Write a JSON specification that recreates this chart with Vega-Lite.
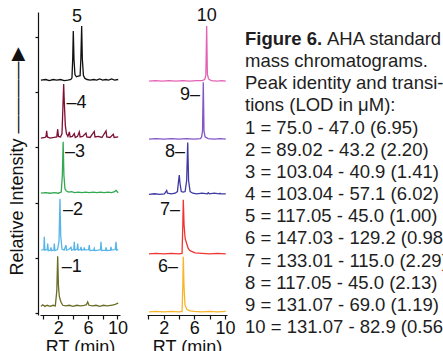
{
"$schema": "https://vega.github.io/schema/vega-lite/v6.json",
"width": 405, "height": 303,
"autosize": {"type": "none"},
"padding": {"left": 38, "top": 12, "right": 0, "bottom": 36},
"background": "white",
"config": {
  "view": {"stroke": null},
  "font": "Liberation Sans",
  "axis": {"grid": false, "domainColor": "#111", "tickColor": "#111", "domainWidth": 1.2, "tickWidth": 1.2, "labelColor": "#111", "titleColor": "#111", "labelFont": "Liberation Sans", "titleFont": "Liberation Sans", "labelFontSize": 18, "titleFontSize": 18, "titleFontWeight": "normal"}
},
"datasets": {
  "tr": [
    {"p":"L","t":"5","rt":-0.35,"v":4.22},{"p":"L","t":"5","rt":0.3,"v":4.23},{"p":"L","t":"5","rt":0.8,"v":4.21},{"p":"L","t":"5","rt":1.3,"v":4.23},{"p":"L","t":"5","rt":1.8,"v":4.22},{"p":"L","t":"5","rt":2.3,"v":4.23},{"p":"L","t":"5","rt":2.8,"v":4.21},{"p":"L","t":"5","rt":3.3,"v":4.22},{"p":"L","t":"5","rt":3.7,"v":4.23},{"p":"L","t":"5","rt":3.85,"v":4.26},{"p":"L","t":"5","rt":3.95,"v":4.6},{"p":"L","t":"5","rt":4.03,"v":5.11},{"p":"L","t":"5","rt":4.12,"v":4.6},{"p":"L","t":"5","rt":4.25,"v":4.32},{"p":"L","t":"5","rt":4.45,"v":4.28},{"p":"L","t":"5","rt":4.7,"v":4.29},{"p":"L","t":"5","rt":4.95,"v":4.3},{"p":"L","t":"5","rt":5.05,"v":4.6},{"p":"L","t":"5","rt":5.16,"v":5.2},{"p":"L","t":"5","rt":5.25,"v":4.6},{"p":"L","t":"5","rt":5.4,"v":4.3},{"p":"L","t":"5","rt":5.6,"v":4.25},{"p":"L","t":"5","rt":5.9,"v":4.23},{"p":"L","t":"5","rt":6.3,"v":4.22},{"p":"L","t":"5","rt":6.8,"v":4.23},{"p":"L","t":"5","rt":7.2,"v":4.22},{"p":"L","t":"5","rt":7.6,"v":4.24},{"p":"L","t":"5","rt":8.0,"v":4.22},{"p":"L","t":"5","rt":8.4,"v":4.23},{"p":"L","t":"5","rt":8.8,"v":4.22},{"p":"L","t":"5","rt":9.2,"v":4.24},{"p":"L","t":"5","rt":9.6,"v":4.22},{"p":"L","t":"5","rt":10.1,"v":4.23},

    {"p":"L","t":"4","rt":-0.35,"v":3.17},{"p":"L","t":"4","rt":0.2,"v":3.18},{"p":"L","t":"4","rt":0.35,"v":3.2},{"p":"L","t":"4","rt":0.43,"v":3.3},{"p":"L","t":"4","rt":0.52,"v":3.19},{"p":"L","t":"4","rt":0.9,"v":3.17},{"p":"L","t":"4","rt":1.4,"v":3.18},{"p":"L","t":"4","rt":1.8,"v":3.19},{"p":"L","t":"4","rt":1.92,"v":3.33},{"p":"L","t":"4","rt":2.02,"v":3.2},{"p":"L","t":"4","rt":2.3,"v":3.19},{"p":"L","t":"4","rt":2.5,"v":3.25},{"p":"L","t":"4","rt":2.62,"v":3.7},{"p":"L","t":"4","rt":2.73,"v":4.15},{"p":"L","t":"4","rt":2.82,"v":3.8},{"p":"L","t":"4","rt":2.95,"v":3.4},{"p":"L","t":"4","rt":3.1,"v":3.25},{"p":"L","t":"4","rt":3.3,"v":3.2},{"p":"L","t":"4","rt":3.5,"v":3.28},{"p":"L","t":"4","rt":3.6,"v":3.19},{"p":"L","t":"4","rt":3.9,"v":3.2},{"p":"L","t":"4","rt":4.16,"v":3.25},{"p":"L","t":"4","rt":4.3,"v":3.18},{"p":"L","t":"4","rt":4.6,"v":3.2},{"p":"L","t":"4","rt":4.84,"v":3.28},{"p":"L","t":"4","rt":4.95,"v":3.19},{"p":"L","t":"4","rt":5.3,"v":3.2},{"p":"L","t":"4","rt":5.74,"v":3.26},{"p":"L","t":"4","rt":5.85,"v":3.19},{"p":"L","t":"4","rt":6.3,"v":3.18},{"p":"L","t":"4","rt":6.86,"v":3.29},{"p":"L","t":"4","rt":6.96,"v":3.19},{"p":"L","t":"4","rt":7.4,"v":3.2},{"p":"L","t":"4","rt":7.9,"v":3.18},{"p":"L","t":"4","rt":8.45,"v":3.3},{"p":"L","t":"4","rt":8.55,"v":3.19},{"p":"L","t":"4","rt":9.0,"v":3.18},{"p":"L","t":"4","rt":9.43,"v":3.24},{"p":"L","t":"4","rt":9.55,"v":3.18},{"p":"L","t":"4","rt":10.1,"v":3.19},

    {"p":"L","t":"3","rt":-0.35,"v":2.17},{"p":"L","t":"3","rt":0.3,"v":2.18},{"p":"L","t":"3","rt":0.9,"v":2.17},{"p":"L","t":"3","rt":1.5,"v":2.18},{"p":"L","t":"3","rt":2.0,"v":2.17},{"p":"L","t":"3","rt":2.4,"v":2.19},{"p":"L","t":"3","rt":2.55,"v":2.5},{"p":"L","t":"3","rt":2.66,"v":3.1},{"p":"L","t":"3","rt":2.76,"v":2.5},{"p":"L","t":"3","rt":2.9,"v":2.25},{"p":"L","t":"3","rt":3.1,"v":2.21},{"p":"L","t":"3","rt":3.4,"v":2.19},{"p":"L","t":"3","rt":3.8,"v":2.2},{"p":"L","t":"3","rt":4.2,"v":2.18},{"p":"L","t":"3","rt":4.7,"v":2.19},{"p":"L","t":"3","rt":5.2,"v":2.18},{"p":"L","t":"3","rt":5.7,"v":2.19},{"p":"L","t":"3","rt":6.2,"v":2.18},{"p":"L","t":"3","rt":6.7,"v":2.19},{"p":"L","t":"3","rt":7.2,"v":2.18},{"p":"L","t":"3","rt":7.7,"v":2.19},{"p":"L","t":"3","rt":8.2,"v":2.18},{"p":"L","t":"3","rt":8.7,"v":2.19},{"p":"L","t":"3","rt":9.2,"v":2.18},{"p":"L","t":"3","rt":9.6,"v":2.2},{"p":"L","t":"3","rt":9.8,"v":2.22},{"p":"L","t":"3","rt":10.1,"v":2.18},

    {"p":"L","t":"2","rt":-0.3,"v":1.14},{"p":"L","t":"2","rt":0.05,"v":1.15},{"p":"L","t":"2","rt":0.11,"v":1.38},{"p":"L","t":"2","rt":0.18,"v":1.14},{"p":"L","t":"2","rt":0.5,"v":1.15},{"p":"L","t":"2","rt":0.57,"v":1.26},{"p":"L","t":"2","rt":0.65,"v":1.13},{"p":"L","t":"2","rt":0.95,"v":1.14},{"p":"L","t":"2","rt":1.01,"v":1.19},{"p":"L","t":"2","rt":1.1,"v":1.13},{"p":"L","t":"2","rt":1.4,"v":1.14},{"p":"L","t":"2","rt":1.46,"v":1.26},{"p":"L","t":"2","rt":1.55,"v":1.13},{"p":"L","t":"2","rt":1.9,"v":1.15},{"p":"L","t":"2","rt":2.1,"v":1.3},{"p":"L","t":"2","rt":2.23,"v":2.07},{"p":"L","t":"2","rt":2.33,"v":1.4},{"p":"L","t":"2","rt":2.5,"v":1.16},{"p":"L","t":"2","rt":2.8,"v":1.14},{"p":"L","t":"2","rt":3.04,"v":1.23},{"p":"L","t":"2","rt":3.12,"v":1.14},{"p":"L","t":"2","rt":3.4,"v":1.15},{"p":"L","t":"2","rt":3.72,"v":1.19},{"p":"L","t":"2","rt":3.8,"v":1.14},{"p":"L","t":"2","rt":4.1,"v":1.15},{"p":"L","t":"2","rt":4.16,"v":1.29},{"p":"L","t":"2","rt":4.24,"v":1.14},{"p":"L","t":"2","rt":4.55,"v":1.16},{"p":"L","t":"2","rt":4.62,"v":1.26},{"p":"L","t":"2","rt":4.7,"v":1.14},{"p":"L","t":"2","rt":5.0,"v":1.15},{"p":"L","t":"2","rt":5.07,"v":1.2},{"p":"L","t":"2","rt":5.15,"v":1.14},{"p":"L","t":"2","rt":5.45,"v":1.15},{"p":"L","t":"2","rt":5.51,"v":1.19},{"p":"L","t":"2","rt":5.6,"v":1.14},{"p":"L","t":"2","rt":6.1,"v":1.15},{"p":"L","t":"2","rt":6.19,"v":1.23},{"p":"L","t":"2","rt":6.27,"v":1.13},{"p":"L","t":"2","rt":6.8,"v":1.14},{"p":"L","t":"2","rt":6.86,"v":1.17},{"p":"L","t":"2","rt":6.95,"v":1.13},{"p":"L","t":"2","rt":7.4,"v":1.14},{"p":"L","t":"2","rt":7.7,"v":1.15},{"p":"L","t":"2","rt":7.77,"v":1.29},{"p":"L","t":"2","rt":7.85,"v":1.13},{"p":"L","t":"2","rt":8.4,"v":1.14},{"p":"L","t":"2","rt":8.45,"v":1.19},{"p":"L","t":"2","rt":8.55,"v":1.13},{"p":"L","t":"2","rt":9.05,"v":1.14},{"p":"L","t":"2","rt":9.12,"v":1.2},{"p":"L","t":"2","rt":9.2,"v":1.14},{"p":"L","t":"2","rt":9.7,"v":1.15},{"p":"L","t":"2","rt":9.8,"v":1.29},{"p":"L","t":"2","rt":9.88,"v":1.14},{"p":"L","t":"2","rt":10.1,"v":1.15},

    {"p":"L","t":"1","rt":-0.35,"v":0.12},{"p":"L","t":"1","rt":-0.1,"v":0.15},{"p":"L","t":"1","rt":0.2,"v":0.12},{"p":"L","t":"1","rt":0.5,"v":0.14},{"p":"L","t":"1","rt":0.9,"v":0.12},{"p":"L","t":"1","rt":1.3,"v":0.14},{"p":"L","t":"1","rt":1.6,"v":0.13},{"p":"L","t":"1","rt":1.8,"v":0.4},{"p":"L","t":"1","rt":1.92,"v":1.03},{"p":"L","t":"1","rt":2.02,"v":0.5},{"p":"L","t":"1","rt":2.14,"v":0.3},{"p":"L","t":"1","rt":2.36,"v":0.2},{"p":"L","t":"1","rt":2.6,"v":0.14},{"p":"L","t":"1","rt":3.0,"v":0.13},{"p":"L","t":"1","rt":3.5,"v":0.14},{"p":"L","t":"1","rt":4.0,"v":0.12},{"p":"L","t":"1","rt":4.5,"v":0.14},{"p":"L","t":"1","rt":5.0,"v":0.13},{"p":"L","t":"1","rt":5.5,"v":0.14},{"p":"L","t":"1","rt":5.8,"v":0.15},{"p":"L","t":"1","rt":5.97,"v":0.2},{"p":"L","t":"1","rt":6.15,"v":0.14},{"p":"L","t":"1","rt":6.6,"v":0.13},{"p":"L","t":"1","rt":7.1,"v":0.14},{"p":"L","t":"1","rt":7.6,"v":0.12},{"p":"L","t":"1","rt":8.1,"v":0.14},{"p":"L","t":"1","rt":8.6,"v":0.13},{"p":"L","t":"1","rt":9.1,"v":0.14},{"p":"L","t":"1","rt":9.6,"v":0.15},{"p":"L","t":"1","rt":9.9,"v":0.17},{"p":"L","t":"1","rt":10.1,"v":0.18},

    {"p":"R","t":"10","rt":0.1,"v":4.2},{"p":"R","t":"10","rt":0.9,"v":4.21},{"p":"R","t":"10","rt":1.8,"v":4.2},{"p":"R","t":"10","rt":2.7,"v":4.21},{"p":"R","t":"10","rt":3.6,"v":4.2},{"p":"R","t":"10","rt":4.5,"v":4.21},{"p":"R","t":"10","rt":5.4,"v":4.2},{"p":"R","t":"10","rt":6.3,"v":4.21},{"p":"R","t":"10","rt":7.0,"v":4.21},{"p":"R","t":"10","rt":7.35,"v":4.23},{"p":"R","t":"10","rt":7.5,"v":4.3},{"p":"R","t":"10","rt":7.61,"v":5.2},{"p":"R","t":"10","rt":7.7,"v":4.33},{"p":"R","t":"10","rt":7.85,"v":4.24},{"p":"R","t":"10","rt":8.2,"v":4.21},{"p":"R","t":"10","rt":9.0,"v":4.2},{"p":"R","t":"10","rt":9.6,"v":4.21},{"p":"R","t":"10","rt":10.1,"v":4.2},

    {"p":"R","t":"9","rt":0.1,"v":3.15},{"p":"R","t":"9","rt":1.0,"v":3.16},{"p":"R","t":"9","rt":2.0,"v":3.15},{"p":"R","t":"9","rt":3.0,"v":3.16},{"p":"R","t":"9","rt":4.0,"v":3.15},{"p":"R","t":"9","rt":5.0,"v":3.16},{"p":"R","t":"9","rt":6.0,"v":3.15},{"p":"R","t":"9","rt":6.8,"v":3.16},{"p":"R","t":"9","rt":6.95,"v":3.19},{"p":"R","t":"9","rt":7.07,"v":3.3},{"p":"R","t":"9","rt":7.17,"v":4.18},{"p":"R","t":"9","rt":7.26,"v":3.3},{"p":"R","t":"9","rt":7.4,"v":3.19},{"p":"R","t":"9","rt":7.8,"v":3.16},{"p":"R","t":"9","rt":8.6,"v":3.15},{"p":"R","t":"9","rt":9.4,"v":3.16},{"p":"R","t":"9","rt":10.1,"v":3.15},

    {"p":"R","t":"8","rt":0.1,"v":2.15},{"p":"R","t":"8","rt":0.8,"v":2.16},{"p":"R","t":"8","rt":1.5,"v":2.15},{"p":"R","t":"8","rt":2.1,"v":2.16},{"p":"R","t":"8","rt":2.3,"v":2.2},{"p":"R","t":"8","rt":2.4,"v":2.22},{"p":"R","t":"8","rt":2.5,"v":2.17},{"p":"R","t":"8","rt":3.0,"v":2.16},{"p":"R","t":"8","rt":3.5,"v":2.17},{"p":"R","t":"8","rt":3.8,"v":2.2},{"p":"R","t":"8","rt":3.95,"v":2.4},{"p":"R","t":"8","rt":4.04,"v":2.5},{"p":"R","t":"8","rt":4.13,"v":2.35},{"p":"R","t":"8","rt":4.3,"v":2.2},{"p":"R","t":"8","rt":4.55,"v":2.19},{"p":"R","t":"8","rt":4.8,"v":2.2},{"p":"R","t":"8","rt":5.0,"v":2.4},{"p":"R","t":"8","rt":5.14,"v":3.09},{"p":"R","t":"8","rt":5.25,"v":2.4},{"p":"R","t":"8","rt":5.45,"v":2.2},{"p":"R","t":"8","rt":5.8,"v":2.17},{"p":"R","t":"8","rt":6.3,"v":2.16},{"p":"R","t":"8","rt":7.0,"v":2.17},{"p":"R","t":"8","rt":7.7,"v":2.16},{"p":"R","t":"8","rt":7.82,"v":2.18},{"p":"R","t":"8","rt":7.95,"v":2.16},{"p":"R","t":"8","rt":8.6,"v":2.17},{"p":"R","t":"8","rt":9.25,"v":2.16},{"p":"R","t":"8","rt":9.35,"v":2.17},{"p":"R","t":"8","rt":9.45,"v":2.16},{"p":"R","t":"8","rt":10.1,"v":2.16},

    {"p":"R","t":"7","rt":0.1,"v":1.07},{"p":"R","t":"7","rt":1.0,"v":1.08},{"p":"R","t":"7","rt":2.0,"v":1.07},{"p":"R","t":"7","rt":3.0,"v":1.08},{"p":"R","t":"7","rt":4.0,"v":1.07},{"p":"R","t":"7","rt":4.4,"v":1.08},{"p":"R","t":"7","rt":4.5,"v":1.6},{"p":"R","t":"7","rt":4.56,"v":2.05},{"p":"R","t":"7","rt":4.66,"v":1.6},{"p":"R","t":"7","rt":4.8,"v":1.35},{"p":"R","t":"7","rt":5.0,"v":1.26},{"p":"R","t":"7","rt":5.2,"v":1.17},{"p":"R","t":"7","rt":5.44,"v":1.13},{"p":"R","t":"7","rt":6.09,"v":1.09},{"p":"R","t":"7","rt":7.0,"v":1.08},{"p":"R","t":"7","rt":8.0,"v":1.07},{"p":"R","t":"7","rt":9.0,"v":1.08},{"p":"R","t":"7","rt":10.1,"v":1.07},

    {"p":"R","t":"6","rt":0.1,"v":0.02},{"p":"R","t":"6","rt":1.0,"v":0.03},{"p":"R","t":"6","rt":2.0,"v":0.02},{"p":"R","t":"6","rt":3.0,"v":0.03},{"p":"R","t":"6","rt":4.0,"v":0.02},{"p":"R","t":"6","rt":4.4,"v":0.03},{"p":"R","t":"6","rt":4.5,"v":0.5},{"p":"R","t":"6","rt":4.56,"v":1.02},{"p":"R","t":"6","rt":4.65,"v":0.5},{"p":"R","t":"6","rt":4.78,"v":0.15},{"p":"R","t":"6","rt":5.0,"v":0.07},{"p":"R","t":"6","rt":5.4,"v":0.04},{"p":"R","t":"6","rt":6.0,"v":0.03},{"p":"R","t":"6","rt":7.0,"v":0.02},{"p":"R","t":"6","rt":8.0,"v":0.03},{"p":"R","t":"6","rt":9.0,"v":0.02},{"p":"R","t":"6","rt":10.1,"v":0.03}
  ],
  "lab": [
    {"p":"L","rt":4.53,"v":5.36,"txt":"5","al":"c"},
    {"p":"L","rt":3.1,"v":3.8,"txt":"–4","al":"l"},
    {"p":"L","rt":2.9,"v":2.91,"txt":"–3","al":"l"},
    {"p":"L","rt":2.64,"v":1.87,"txt":"–2","al":"l"},
    {"p":"L","rt":2.46,"v":0.84,"txt":"–1","al":"l"},
    {"p":"R","rt":7.61,"v":5.375,"txt":"10","al":"c"},
    {"p":"R","rt":6.74,"v":3.95,"txt":"9–","al":"r"},
    {"p":"R","rt":4.78,"v":2.92,"txt":"8–","al":"r"},
    {"p":"R","rt":4.13,"v":1.87,"txt":"7–","al":"r"},
    {"p":"R","rt":3.87,"v":0.84,"txt":"6–","al":"r"}
  ],
  "cap": [
    {"ln":1,"txt":"Figure 6.","w":"b"},
    {"ln":1,"txt":"AHA standard","w":"r1"},
    {"ln":2,"txt":"mass chromatograms.","w":"r"},
    {"ln":3,"txt":"Peak identity and transi-","w":"r"},
    {"ln":4,"txt":"tions (LOD in μM):","w":"r"},
    {"ln":5,"txt":"1 = 75.0 - 47.0 (6.95)","w":"r"},
    {"ln":6,"txt":"2 = 89.02 - 43.2 (2.20)","w":"r"},
    {"ln":7,"txt":"3 = 103.04 - 40.9 (1.41)","w":"r"},
    {"ln":8,"txt":"4 = 103.04 - 57.1 (6.02)","w":"r"},
    {"ln":9,"txt":"5 = 117.05 - 45.0 (1.00)","w":"r"},
    {"ln":10,"txt":"6 = 147.03 - 129.2 (0.98)","w":"r"},
    {"ln":11,"txt":"7 = 133.01 - 115.0 (2.29)","w":"r"},
    {"ln":12,"txt":"8 = 117.05 - 45.0 (2.13)","w":"r"},
    {"ln":13,"txt":"9 = 131.07 - 69.0 (1.19)","w":"r"},
    {"ln":14,"txt":"10 = 131.07 - 82.9 (0.56)","w":"r"}
  ]
},
"resolve": {"scale": {"x": "independent", "y": "independent"}},
"layer": [
  {
    "encoding": {
      "x": {"field": "rt", "type": "quantitative", "scale": {"domain": [-0.47, 10.34], "range": [2, 82], "nice": false, "zero": false},
        "axis": {"orient": "bottom", "values": [0, 2, 4, 6, 8, 10], "labelExpr": "datum.value % 4 == 2 ? datum.label : ''", "labelFlush": false, "labelOverlap": false, "tickSize": 4, "labelPadding": 0, "title": "RT (min)", "titleY": 23, "titleBaseline": "top"}},
      "y": {"field": "v", "type": "quantitative", "scale": {"domain": [-0.036, 5.453], "nice": false, "zero": false},
        "axis": {"values": [0, 1, 2, 3, 4, 5], "labels": false, "tickSize": 3, "title": "Relative Intensity ————▶", "titleX": -20.5, "titleY": 149, "titleAngle": 270, "titleAlign": "center", "titleBaseline": "middle"}}
    },
    "layer": [
      {"data": {"name": "tr"}, "transform": [{"filter": "datum.p == 'L'"}],
       "mark": {"type": "line", "strokeWidth": 1.3},
       "encoding": {"color": {"field": "t", "type": "nominal", "legend": null,
         "scale": {"domain": ["1","2","3","4","5","6","7","8","9","10"], "range": ["#6b6d25","#56b4e9","#33a852","#7d1034","#111111","#f7b52c","#f0352f","#3f3aa3","#8455c7","#e462b4"]}}}},
      {"data": {"name": "lab"}, "transform": [{"filter": "datum.p == 'L' && datum.al == 'l'"}],
       "mark": {"type": "text", "align": "left", "baseline": "middle", "fontSize": 18, "color": "#111"},
       "encoding": {"text": {"field": "txt"}}},
      {"data": {"name": "lab"}, "transform": [{"filter": "datum.p == 'L' && datum.al == 'c'"}],
       "mark": {"type": "text", "align": "center", "baseline": "middle", "fontSize": 18, "color": "#111"},
       "encoding": {"text": {"field": "txt"}}}
    ]
  },
  {
    "encoding": {
      "x": {"field": "rt", "type": "quantitative", "scale": {"domain": [-0.17, 10.26], "range": [109, 189], "nice": false, "zero": false},
        "axis": {"orient": "bottom", "values": [0, 2, 4, 6, 8, 10], "labelExpr": "datum.value % 4 == 2 ? datum.label : ''", "labelFlush": false, "labelOverlap": false, "tickSize": 4, "labelPadding": 0, "title": "RT (min)", "titleY": 23, "titleBaseline": "top"}},
      "y": {"field": "v", "type": "quantitative", "scale": {"domain": [-0.036, 5.453], "nice": false, "zero": false}, "axis": null}
    },
    "layer": [
      {"data": {"name": "tr"}, "transform": [{"filter": "datum.p == 'R'"}],
       "mark": {"type": "line", "strokeWidth": 1.3},
       "encoding": {"color": {"field": "t", "type": "nominal", "legend": null,
         "scale": {"domain": ["1","2","3","4","5","6","7","8","9","10"], "range": ["#6b6d25","#56b4e9","#33a852","#7d1034","#111111","#f7b52c","#f0352f","#3f3aa3","#8455c7","#e462b4"]}}}},
      {"data": {"name": "lab"}, "transform": [{"filter": "datum.p == 'R' && datum.al == 'r'"}],
       "mark": {"type": "text", "align": "right", "baseline": "middle", "fontSize": 18, "color": "#111"},
       "encoding": {"text": {"field": "txt"}}},
      {"data": {"name": "lab"}, "transform": [{"filter": "datum.p == 'R' && datum.al == 'c'"}],
       "mark": {"type": "text", "align": "center", "baseline": "middle", "fontSize": 18, "color": "#111"},
       "encoding": {"text": {"field": "txt"}}}
    ]
  },
  {
    "data": {"name": "cap"},
    "encoding": {
      "x": {"datum": 0, "type": "quantitative", "scale": {"domain": [0, 1], "range": [207, 405]}, "axis": null},
      "y": {"field": "ln", "type": "quantitative", "scale": {"domain": [1, 14], "range": [33, 321], "nice": false, "zero": false}, "axis": null},
      "text": {"field": "txt"}
    },
    "layer": [
      {"transform": [{"filter": "datum.w == 'b'"}], "mark": {"type": "text", "align": "left", "baseline": "alphabetic", "fontSize": 18.5, "fontWeight": "bold", "color": "#1e1e1e"}},
      {"transform": [{"filter": "datum.w == 'r1'"}], "mark": {"type": "text", "align": "left", "baseline": "alphabetic", "fontSize": 18.5, "dx": 82, "color": "#1e1e1e"}},
      {"transform": [{"filter": "datum.w == 'r'"}], "mark": {"type": "text", "align": "left", "baseline": "alphabetic", "fontSize": 18.5, "color": "#1e1e1e"}}
    ]
  }
]
}
